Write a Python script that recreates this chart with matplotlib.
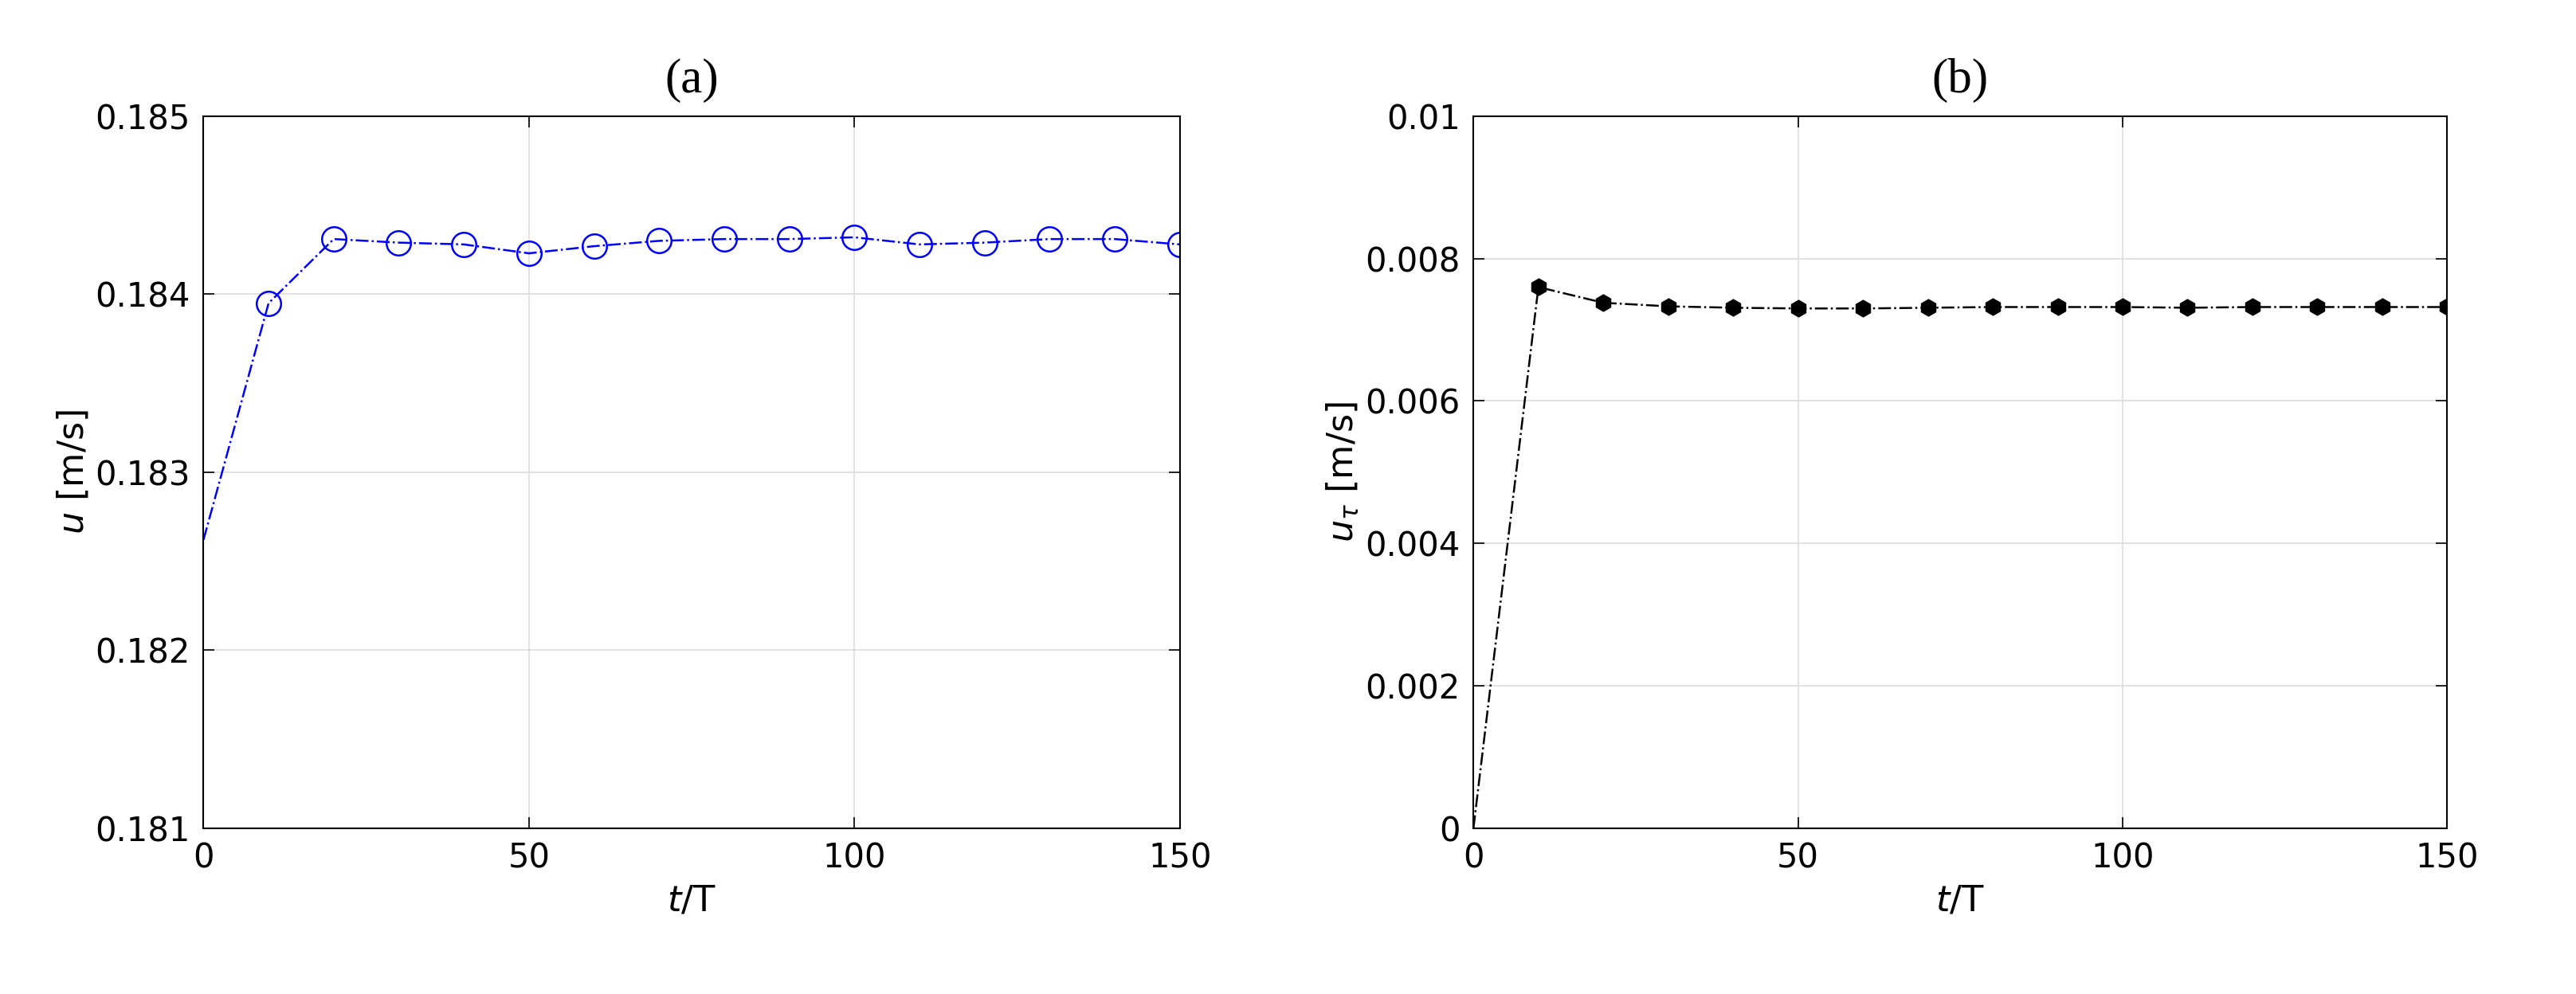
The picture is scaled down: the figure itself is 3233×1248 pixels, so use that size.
import matplotlib
matplotlib.use("Agg")
import matplotlib.pyplot as plt

t = [0, 10, 20, 30, 40, 50, 60, 70, 80, 90, 100, 110, 120, 130, 140, 150]
u = [0.18262, 0.18395, 0.18431, 0.18429, 0.18428, 0.18423, 0.18427, 0.18430, 0.18431, 0.18431, 0.18432, 0.18428, 0.18429, 0.18431, 0.18431, 0.18428]
ut = [0.0, 0.00760, 0.00738, 0.00733, 0.00731, 0.00730, 0.00730, 0.00731, 0.00732, 0.00732, 0.00732, 0.00731, 0.00732, 0.00732, 0.00732, 0.00732]

plt.rcParams['font.family'] = ['DejaVu Sans']
fig = plt.figure(figsize=(32.33, 12.48), dpi=100)
ax1 = fig.add_axes([0.079, 0.167, 0.379, 0.716])
ax2 = fig.add_axes([0.572, 0.167, 0.378, 0.716])

ax1.plot(t, u, color='blue', ls='-.', lw=1.8)
ax1.plot(t[1:], u[1:], ls='none', marker='o', ms=22, mfc='none', mec='blue', mew=1.8)
ax1.set_ylim(0.181, 0.185)
ax1.set_yticks([0.181, 0.182, 0.183, 0.184, 0.185])
ax1.set_yticklabels(['0.181', '0.182', '0.183', '0.184', '0.185'])
ax1.set_ylabel(r'$\it{u}$ [m/s]', fontsize=32)
ax1.set_title('(a)', fontsize=44, family='Liberation Serif', pad=22)

ax2.plot(t, ut, color='black', ls='-.', lw=1.8)
ax2.plot(t[1:], ut[1:], ls='none', marker='h', ms=15, color='black')
ax2.set_ylim(0, 0.01)
ax2.set_yticks([0, 0.002, 0.004, 0.006, 0.008, 0.01])
ax2.set_yticklabels(['0', '0.002', '0.004', '0.006', '0.008', '0.01'])
ax2.set_ylabel(r'$\it{u_\tau}$ [m/s]', fontsize=32)
ax2.set_title('(b)', fontsize=44, family='Liberation Serif', pad=22)

for ax in (ax1, ax2):
    ax.set_xlim(0, 150)
    ax.set_xticks([0, 50, 100, 150])
    ax.set_xlabel(r'$\it{t}$/T', fontsize=32, labelpad=8)
    ax.grid(True, color='#dddddd', lw=1.2)
    ax.tick_params(labelsize=30, direction='in', length=10, top=True, right=True, width=1.2, pad=12)
    for s in ax.spines.values():
        s.set_linewidth(1.5)

fig.savefig('out.png', dpi=100)
